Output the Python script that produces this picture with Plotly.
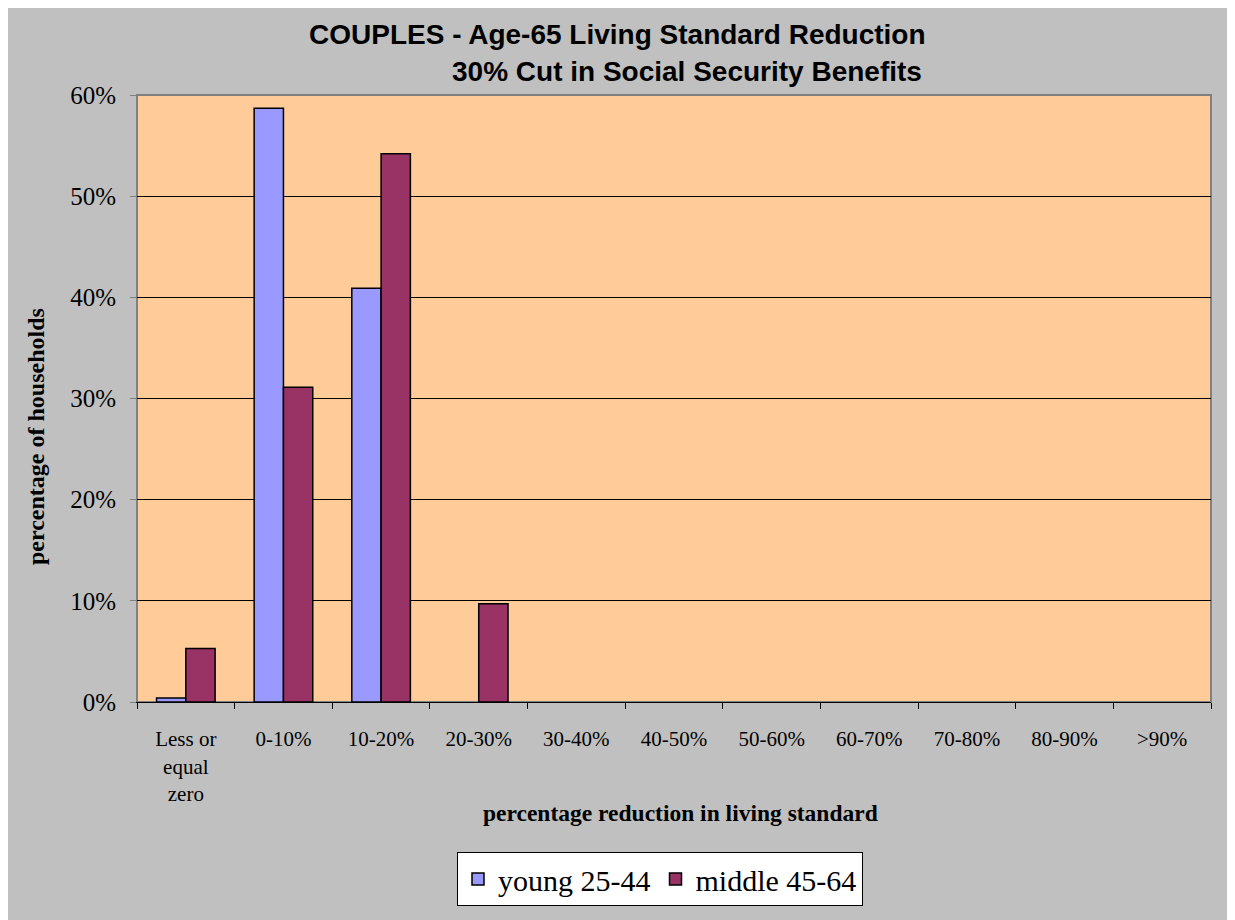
import plotly.graph_objects as go

categories = ["Less or<br>equal<br>zero", "0-10%", "10-20%", "20-30%", "30-40%", "40-50%",
              "50-60%", "60-70%", "70-80%", "80-90%", ">90%"]
young = [0.004, 0.587, 0.409, 0, 0, 0, 0, 0, 0, 0, 0]
middle = [0.053, 0.311, 0.542, 0.097, 0, 0, 0, 0, 0, 0, 0]
y_ticks = [0, 0.1, 0.2, 0.3, 0.4, 0.5, 0.6]

SERIF = "Liberation Serif"
SANS = "Liberation Sans"

# page offset caused by the default 8px body margin
OFF = 8
W, H = 1227, 912
PL, PR, PT, PB = 137, 1211, 95, 702   # plot area in page pixels
L, T = PL - OFF, PT - OFF
R, B = W - (PR - OFF), H - (PB - OFF)
pw, ph = PR - PL, PB - PT

def px(x):
    return (x - PL) / pw

def py(y):
    return (PB - y) / ph

def outline(vals):
    return [1.5 if v > 0 else 0 for v in vals]

fig = go.Figure()
fig.add_trace(go.Bar(name="young 25-44", x=categories, y=young,
                     marker=dict(color="#9999FF", line=dict(color="black", width=outline(young)))))
fig.add_trace(go.Bar(name="middle 45-64", x=categories, y=middle,
                     marker=dict(color="#993366", line=dict(color="black", width=outline(middle)))))

fig.update_layout(
    width=W, height=H,
    margin=dict(l=L, r=R, t=T, b=B),
    paper_bgcolor="white",
    plot_bgcolor="#FFCC99",
    barmode="group",
    bargap=0.4,
    bargroupgap=0,
    showlegend=True,
    legend=dict(orientation="h", x=px(660), y=py(879), xanchor="center", yanchor="middle",
                bgcolor="white", bordercolor="black", borderwidth=1,
                font=dict(family=SERIF, size=30, color="black"),
                traceorder="normal"),
    xaxis=dict(type="category", tickson="boundaries", ticks="outside", ticklen=6,
               tickcolor="black", showline=True, linecolor="black", linewidth=1,
               showgrid=False, tickfont=dict(family=SERIF, size=21, color="black"),
               ticklabelstandoff=18),
    yaxis=dict(range=[0, 0.6], tickvals=y_ticks, tickformat=".0%", ticks="outside",
               ticklen=6, tickcolor="#808080", showline=True, linecolor="#808080",
               showgrid=True, gridcolor="black", gridwidth=1, zeroline=False,
               tickfont=dict(family=SERIF, size=25, color="black"),
               ticklabelstandoff=9),
    shapes=[
        dict(type="rect", xref="paper", yref="paper", x0=px(7), x1=px(1233), y0=py(960), y1=py(7),
             fillcolor="#C0C0C0", line=dict(color="black", width=2), layer="below"),
        dict(type="rect", xref="paper", yref="paper", x0=0, x1=1, y0=0, y1=1,
             fillcolor="#FFCC99", line=dict(color="#808080", width=2), layer="below"),
    ],
    annotations=[
        dict(text="<b>COUPLES - Age-65 Living Standard Reduction</b>", xref="paper", yref="paper",
             x=px(617), y=py(35), xanchor="center", yanchor="middle", showarrow=False,
             font=dict(family=SANS, size=28, color="black")),
        dict(text="<b>30% Cut in Social Security Benefits</b>", xref="paper", yref="paper",
             x=px(687), y=py(72), xanchor="center", yanchor="middle", showarrow=False,
             font=dict(family=SANS, size=28, color="black")),
        dict(text="<b>percentage reduction in living standard</b>", xref="paper", yref="paper",
             x=px(680), y=py(813), xanchor="center", yanchor="middle", showarrow=False,
             font=dict(family=SERIF, size=23.5, color="black")),
        dict(text="<b>percentage of households</b>", xref="paper", yref="paper",
             x=px(36), y=py(437), xanchor="center", yanchor="middle", showarrow=False,
             textangle=-90, font=dict(family=SERIF, size=24, color="black")),
    ],
)

fig.write_html("out.html")
